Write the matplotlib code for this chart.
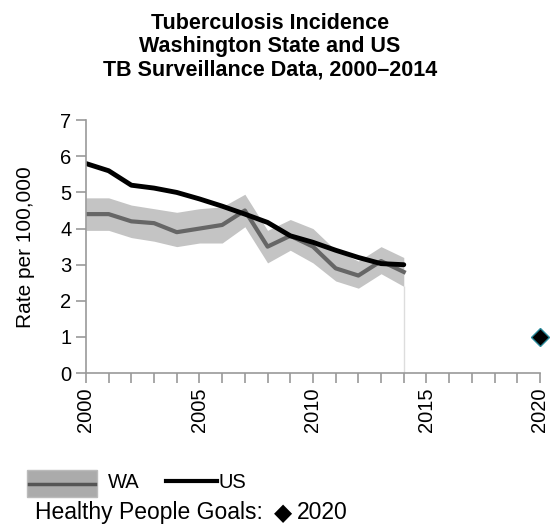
import matplotlib.pyplot as plt
from matplotlib.patches import Rectangle
from matplotlib.lines import Line2D

plt.rcParams['font.family'] = ['Liberation Sans', 'DejaVu Sans']

YEARS = list(range(2000, 2015))
WA_RATE = [4.4, 4.4, 4.2, 4.15, 3.9, 4.0, 4.1, 4.5, 3.5, 3.8, 3.5, 2.9, 2.7, 3.1, 2.8]
WA_UPPER = [4.85, 4.85, 4.65, 4.55, 4.45, 4.55, 4.6, 4.95, 3.95, 4.25, 4.0, 3.4, 3.1, 3.5, 3.2]
WA_LOWER = [3.95, 3.95, 3.75, 3.65, 3.5, 3.6, 3.6, 4.05, 3.05, 3.4, 3.05, 2.55, 2.35, 2.75, 2.4]
US_RATE = [5.8, 5.6, 5.2, 5.12, 5.0, 4.82, 4.62, 4.4, 4.17, 3.8, 3.62, 3.4, 3.2, 3.03, 3.0]
GOAL_YEAR = [2020]
GOAL_RATE = [1.0]

fig = plt.figure(figsize=(5.51, 5.27), dpi=100)
ax = fig.add_axes([0.156, 0.292, 0.824, 0.48])

ax.fill_between(YEARS, WA_LOWER, WA_UPPER, color='#c4c4c4', linewidth=0)
ax.plot(YEARS, WA_RATE, color='#666666', linewidth=3)
ax.plot(YEARS, US_RATE, color='black', linewidth=3.5, solid_capstyle='round')
ax.vlines(YEARS[-1], 0, WA_LOWER[-1], color='#dddddd', linewidth=1)
ax.plot(GOAL_YEAR, GOAL_RATE, marker='D', markersize=9.5, color='black',
        markeredgecolor='#2a8a9a', markeredgewidth=1, linestyle='none', clip_on=False)

ax.set_xlim(2000, 2020)
ax.set_ylim(0, 7)
ax.set_xticks([2000, 2005, 2010, 2015, 2020])
ax.set_xticks(range(2000, 2021), minor=True)
ax.set_yticks(range(0, 8))
for s in ['top', 'right']:
    ax.spines[s].set_visible(False)
for s in ['left', 'bottom']:
    ax.spines[s].set_color('#999999')
    ax.spines[s].set_linewidth(1.2)
ax.tick_params(axis='both', which='both', direction='out', color='#999999', width=1.2)
ax.tick_params(axis='x', which='major', length=7, labelsize=14.5, labelrotation=90)
ax.tick_params(axis='x', which='minor', length=7)
ax.tick_params(axis='y', length=7, labelsize=14.5)
ax.set_ylabel('Rate per 100,000', fontsize=15, labelpad=18)

fig.text(0.49, 0.911, 'Tuberculosis Incidence\nWashington State and US\nTB Surveillance Data, 2000\u20132014',
         ha='center', va='center', fontsize=15.5, fontweight='bold', linespacing=1.15)

# legend, drawn by hand in figure coordinates
fig.add_artist(Rectangle((0.049, 0.057), 0.127, 0.051, transform=fig.transFigure,
                         facecolor='#ababab', edgecolor='#bbbbbb', linewidth=1))
fig.add_artist(Line2D([0.053, 0.172], [0.081, 0.081], transform=fig.transFigure,
                      color='#555555', linewidth=2.5))
fig.text(0.196, 0.084, 'WA', fontsize=14.5, ha='left', va='center')
fig.add_artist(Line2D([0.301, 0.393], [0.087, 0.087], transform=fig.transFigure,
                      color='black', linewidth=3))
fig.text(0.396, 0.084, 'US', fontsize=14.5, ha='left', va='center')
fig.text(0.064, 0.027, 'Healthy People Goals:', fontsize=16.5, ha='left', va='center')
fig.text(0.497, 0.027, '\u25c6', fontsize=17, ha='left', va='center', family='DejaVu Sans')
fig.text(0.539, 0.027, '2020', fontsize=16.5, ha='left', va='center')

fig.savefig('out.png', dpi=100)
